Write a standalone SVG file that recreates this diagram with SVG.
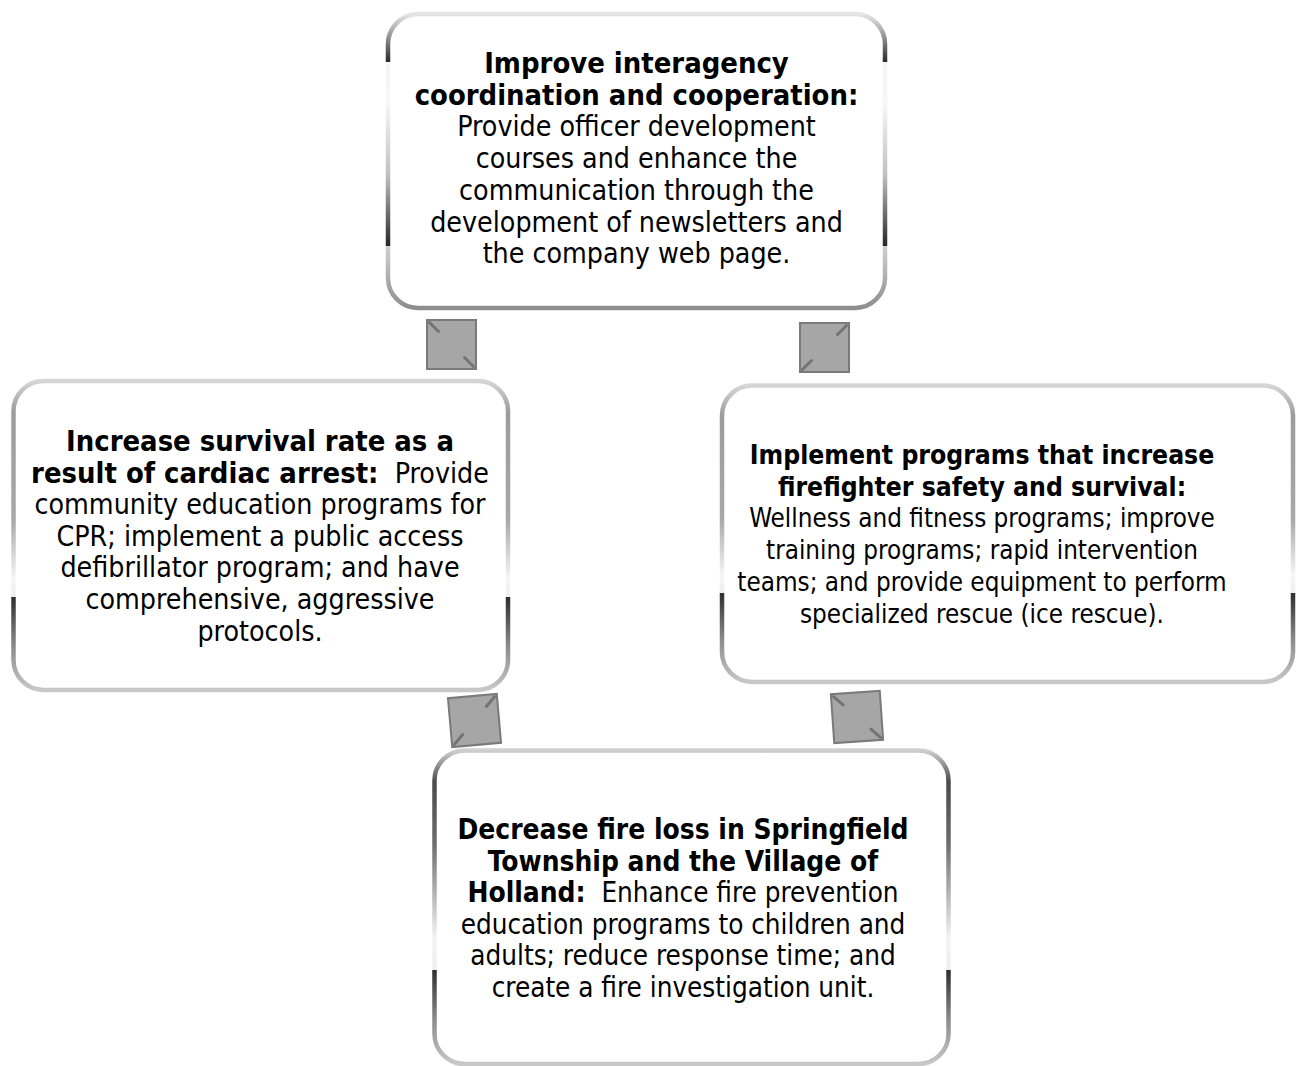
<svg xmlns="http://www.w3.org/2000/svg" width="1296" height="1066" viewBox="0 0 1296 1066">
  <defs>
    <!-- metallic frame strokes, vertical bands with a hard edge -->
    <linearGradient id="frameTop" x1="0" y1="0" x2="0" y2="1">
      <stop offset="0" stop-color="#e6e6e6"/>
      <stop offset="0.06" stop-color="#a8a8a8"/>
      <stop offset="0.163" stop-color="#2a2a2a"/>
      <stop offset="0.163" stop-color="#f4f4f4"/>
      <stop offset="0.3" stop-color="#f8f8f8"/>
      <stop offset="0.55" stop-color="#c0c0c0"/>
      <stop offset="0.79" stop-color="#262626"/>
      <stop offset="0.79" stop-color="#d0d0d0"/>
      <stop offset="1" stop-color="#8e8e8e"/>
    </linearGradient>
    <linearGradient id="frameSide" x1="0" y1="0" x2="0" y2="1">
      <stop offset="0" stop-color="#d6d6d6"/>
      <stop offset="0.1" stop-color="#9c9c9c"/>
      <stop offset="0.45" stop-color="#a8a8a8"/>
      <stop offset="0.64" stop-color="#f6f6f6"/>
      <stop offset="0.70" stop-color="#eeeeee"/>
      <stop offset="0.70" stop-color="#2e2e2e"/>
      <stop offset="0.86" stop-color="#8c8c8c"/>
      <stop offset="1" stop-color="#c8c8c8"/>
    </linearGradient>
    <linearGradient id="frameLow" x1="0" y1="0" x2="0" y2="1">
      <stop offset="0" stop-color="#d0d0d0"/>
      <stop offset="0.1" stop-color="#4a4a4a"/>
      <stop offset="0.3" stop-color="#6e6e6e"/>
      <stop offset="0.6" stop-color="#f4f4f4"/>
      <stop offset="0.70" stop-color="#eeeeee"/>
      <stop offset="0.70" stop-color="#2e2e2e"/>
      <stop offset="0.86" stop-color="#8c8c8c"/>
      <stop offset="1" stop-color="#c8c8c8"/>
    </linearGradient>
    <style>
      .box { fill: #ffffff; stroke-width: 4.5; }
      .txt { font-family: "DejaVu Sans Condensed", "DejaVu Sans", sans-serif; font-stretch: condensed; font-size: 28.3px; fill: #000000; text-anchor: middle; }
      .b { font-weight: bold; font-size: 28.9px; }
      .t3 { font-size: 25.8px; }
      .t3 .b { font-size: 26.3px; }
      .t4 { font-size: 27.6px; }
      .t4 .b { font-size: 27.9px; }
      .sq { fill: #a6a6a6; stroke: #7a7a7a; stroke-width: 2; }
      .tick { stroke: #747474; stroke-width: 3; stroke-linecap: round; }
    </style>
  </defs>

  <rect width="1296" height="1066" fill="#ffffff"/>

  <!-- connectors between the goal boxes -->
  <g id="connectors">
    <g id="link-top-left">
      <rect class="sq" x="427" y="320" width="49" height="49"/>
      <line class="tick" x1="429.5" y1="322.5" x2="438.5" y2="331.5"/>
      <line class="tick" x1="464.5" y1="357.5" x2="473.5" y2="366.5"/>
    </g>
    <g id="link-top-right">
      <rect class="sq" x="800" y="323" width="49" height="49"/>
      <line class="tick" x1="846.5" y1="325.5" x2="837.5" y2="334.5"/>
      <line class="tick" x1="802.5" y1="369.5" x2="811.5" y2="360.5"/>
    </g>
    <g id="link-left-bottom" transform="translate(474.5 720.5) rotate(-5)">
      <rect class="sq" x="-24.5" y="-24.5" width="49" height="49"/>
      <line class="tick" x1="22" y1="-22" x2="13" y2="-13"/>
      <line class="tick" x1="-22" y1="22" x2="-13" y2="13"/>
    </g>
    <g id="link-right-bottom" transform="translate(857 717) rotate(-4)">
      <rect class="sq" x="-24.5" y="-24.5" width="49" height="49"/>
      <line class="tick" x1="-22" y1="-22" x2="-13" y2="-13"/>
      <line class="tick" x1="22" y1="22" x2="13" y2="13"/>
    </g>
  </g>

  <!-- goal: interagency coordination -->
  <g id="goal-coordination">
    <rect class="box" x="388" y="14" width="497" height="294" rx="30" ry="30" stroke="url(#frameTop)"/>
    <text class="txt"><tspan class="b" x="636.5" y="73">Improve interagency</tspan><tspan class="b" x="636.5" y="104.7">coordination and cooperation:</tspan><tspan x="636.5" y="136.4">Provide officer development</tspan><tspan x="636.5" y="168.1">courses and enhance the</tspan><tspan x="636.5" y="199.8">communication through the</tspan><tspan x="636.5" y="231.5">development of newsletters and</tspan><tspan x="636.5" y="263.2">the company web page.</tspan></text>
  </g>

  <!-- goal: cardiac arrest survival -->
  <g id="goal-survival">
    <rect class="box" x="13.5" y="381" width="494.5" height="309" rx="30" ry="30" stroke="url(#frameSide)"/>
    <text class="txt" xml:space="preserve"><tspan class="b" x="260" y="451">Increase survival rate as a</tspan><tspan x="260" y="482.6"><tspan class="b">result of cardiac arrest:</tspan>  Provide</tspan><tspan x="260" y="514.2">community education programs for</tspan><tspan x="260" y="545.8">CPR; implement a public access</tspan><tspan x="260" y="577.4">defibrillator program; and have</tspan><tspan x="260" y="609">comprehensive, aggressive</tspan><tspan x="260" y="640.6">protocols.</tspan></text>
  </g>

  <!-- goal: firefighter safety -->
  <g id="goal-safety">
    <rect class="box" x="722" y="385.5" width="571" height="296.5" rx="30" ry="30" stroke="url(#frameSide)"/>
    <text class="txt t3"><tspan class="b" x="982" y="464">Implement programs that increase</tspan><tspan class="b" x="982" y="495.7">firefighter safety and survival:</tspan><tspan x="982" y="527.4">Wellness and fitness programs; improve</tspan><tspan x="982" y="559.1">training programs; rapid intervention</tspan><tspan x="982" y="590.8">teams; and provide equipment to perform</tspan><tspan x="982" y="622.5">specialized rescue (ice rescue).</tspan></text>
  </g>

  <!-- goal: fire loss reduction -->
  <g id="goal-fire-loss">
    <rect class="box" x="434.5" y="750.5" width="514" height="313.5" rx="30" ry="30" stroke="url(#frameLow)"/>
    <text class="txt t4" xml:space="preserve"><tspan class="b" x="683" y="839">Decrease fire loss in Springfield</tspan><tspan class="b" x="683" y="870.6">Township and the Village of</tspan><tspan x="683" y="902.2"><tspan class="b">Holland:</tspan>  Enhance fire prevention</tspan><tspan x="683" y="933.8">education programs to children and</tspan><tspan x="683" y="965.4">adults; reduce response time; and</tspan><tspan x="683" y="997">create a fire investigation unit.</tspan></text>
  </g>
</svg>
